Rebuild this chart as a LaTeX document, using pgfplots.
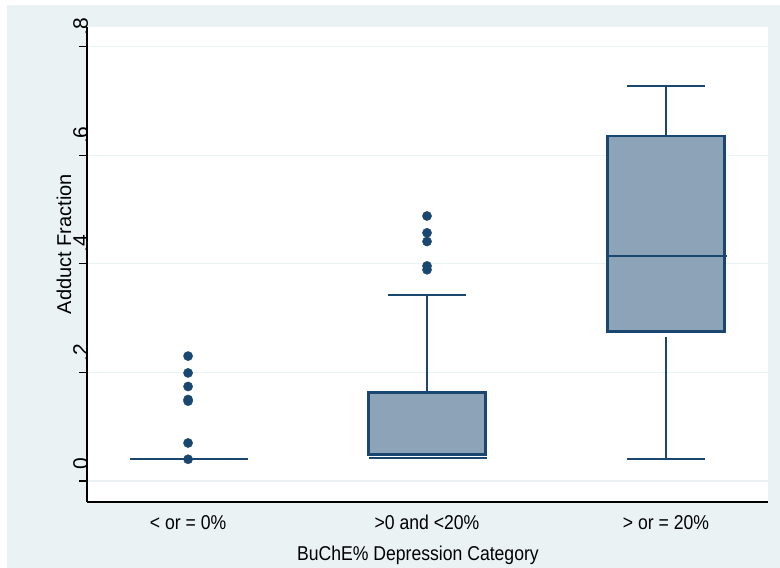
\documentclass[border=0pt]{standalone}
\usepackage{fontspec}
\setmainfont{Liberation Sans}
\newfontfamily\hfont[FakeStretch=0.88]{Liberation Sans}
\usepackage{pgfplots}
\pgfplotsset{compat=1.18}
\definecolor{navy}{RGB}{26,71,111}
\definecolor{boxfill}{RGB}{141,164,184}
\definecolor{bggray}{RGB}{234,242,243}
\definecolor{gridc}{RGB}{234,242,243}
\begin{document}
\begin{tikzpicture}
\useasboundingbox (0,0) rectangle (780pt,568pt);
\fill[white] (0,0) rectangle (780pt,568pt);
\fill[bggray] (7pt,0) rectangle (780pt,563pt);
\fill[white] (87pt,66pt) rectangle (768pt,541pt);
\begin{axis}[
  at={(87pt,66pt)}, anchor=south west,
  scale only axis, width=681pt, height=475pt,
  xmin=0.577, xmax=3.427,
  ymin=-0.0387, ymax=0.836,
  axis x line*=bottom, axis y line*=left,
  axis line style={black, line width=1.3pt},
  xtick={1,2,3},
  xticklabels={{< or = 0\%},{>0 and <20\%},{> or = 20\%}},
  xtick style={draw=none},
  xticklabel style={font=\hfont\fontsize{20}{24}\selectfont, anchor=base, inner sep=0pt, yshift=-19pt},
  ytick={0,0.2,0.4,0.6,0.8},
  yticklabels={0,.2,.4,.6,.8},
  ytick style={black, line width=1.3pt},
  tick align=outside,
  major tick length=8pt,
  yticklabel style={font=\fontsize{21}{24}\selectfont, xshift=9pt, yshift=11pt, rotate=90, anchor=base west, inner sep=0pt},
  ymajorgrids,
  major grid style={gridc, line width=1.3pt},
  every axis y label/.style={at={(axis description cs:-0.0338,0.543)}, rotate=90, anchor=center, font=\fontsize{20}{24}\selectfont},
  every axis x label/.style={at={(axis description cs:0.486,-0.112)}, anchor=center, font=\hfont\fontsize{20}{24}\selectfont},
  ylabel={Adduct Fraction},
  xlabel={BuChE\% Depression Category},
  clip=false,
]
% ---- group 1: < or = 0% (box collapsed at 0.040)
\addplot[navy, line width=2pt] coordinates {(0.755,0.040) (1.250,0.040)};
% ---- group 2: >0 and <20%
\addplot[navy, line width=2pt] coordinates {(2,0.163) (2,0.342)};
\addplot[navy, line width=2pt] coordinates {(1.835,0.342) (2.165,0.342)};
\addplot[draw=navy, fill=boxfill, line width=2.6pt] coordinates {(1.755,0.049) (2.245,0.049) (2.245,0.163) (1.755,0.163)} -- cycle;
\addplot[navy, line width=2pt] coordinates {(1.757,0.043) (2.251,0.043)};
% ---- group 3: > or = 20%
\addplot[navy, line width=2pt] coordinates {(3,0.635) (3,0.727)};
\addplot[navy, line width=2pt] coordinates {(2.835,0.727) (3.165,0.727)};
\addplot[navy, line width=2pt] coordinates {(3,0.041) (3,0.266)};
\addplot[navy, line width=2pt] coordinates {(2.835,0.041) (3.165,0.041)};
\addplot[draw=navy, fill=boxfill, line width=2.6pt] coordinates {(2.755,0.275) (3.245,0.275) (3.245,0.635) (2.755,0.635)} -- cycle;
\addplot[navy, line width=2pt] coordinates {(2.755,0.415) (3.255,0.415)};
% ---- outliers
\addplot[only marks, mark=*, mark size=4.6pt, mark options={fill=navy, draw=navy}]
  coordinates {(1,0.040) (1,0.070) (1,0.147) (1,0.150) (1,0.174) (1,0.199) (1,0.230)};
\addplot[only marks, mark=*, mark size=4.6pt, mark options={fill=navy, draw=navy}]
  coordinates {(2,0.389) (2,0.396) (2,0.441) (2,0.457) (2,0.488)};
\end{axis}
\end{tikzpicture}
\end{document}
